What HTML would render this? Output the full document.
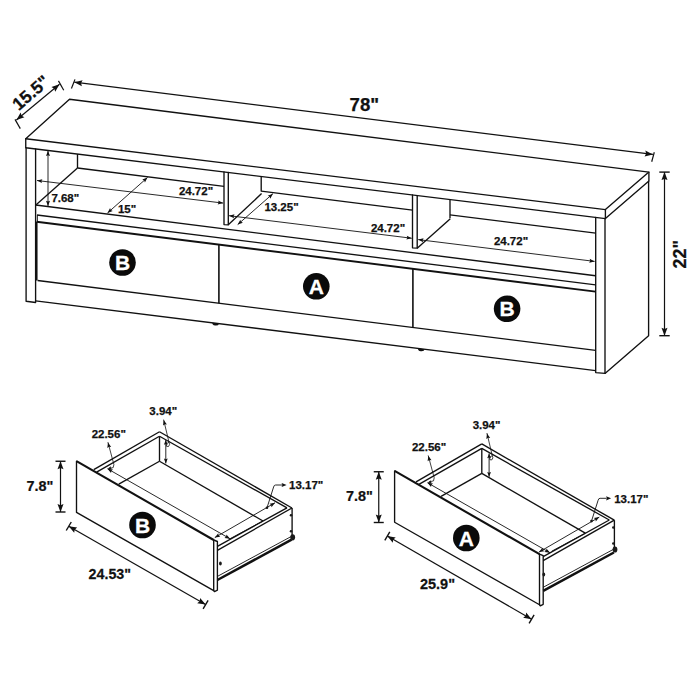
<!DOCTYPE html>
<html><head><meta charset="utf-8"><title>TV stand dimensions</title>
<style>
html,body{margin:0;padding:0;background:#fff;}
body{width:700px;height:700px;overflow:hidden;}
svg{display:block;}
svg text{font-family:"Liberation Sans",sans-serif;font-weight:bold;fill:#111;stroke:#111;stroke-width:0.25px;}
</style></head><body>
<svg width="700" height="700" viewBox="0 0 700 700">
<rect width="700" height="700" fill="#fff"/>
<path d="M69.50 99.25 L648.90 172.10 L605.40 209.60 L25.75 138.75 Z" stroke="#111" stroke-width="1.35" fill="none" stroke-linejoin="round" stroke-linecap="round"/>
<path d="M25.75 138.75 L25.75 147.75 L605.40 218.60 L605.40 209.60" stroke="#111" stroke-width="1.35" fill="none" stroke-linejoin="round" stroke-linecap="round"/>
<path d="M605.40 218.60 L648.90 181.10 L648.90 172.10" stroke="#111" stroke-width="1.35" fill="none" stroke-linejoin="round" stroke-linecap="round"/>
<path d="M26.10 147.79 L26.10 301.25 L35.60 302.50 L35.60 148.95" stroke="#111" stroke-width="1.35" fill="none" stroke-linejoin="round" stroke-linecap="round"/>
<path d="M595.70 217.40 L595.70 372.60 L605.00 373.40 L605.00 218.53" stroke="#111" stroke-width="1.35" fill="none" stroke-linejoin="round" stroke-linecap="round"/>
<path d="M605.00 373.40 L648.60 335.70 L648.60 181.10" stroke="#111" stroke-width="1.35" fill="none" stroke-linejoin="round" stroke-linecap="round"/>
<line x1="35.70" y1="205.00" x2="595.60" y2="275.77" stroke="#111" stroke-width="1.35"/>
<line x1="37.00" y1="215.00" x2="595.60" y2="284.82" stroke="#111" stroke-width="1.35"/>
<line x1="36.60" y1="221.75" x2="595.60" y2="291.62" stroke="#111" stroke-width="1.9"/>
<line x1="37.60" y1="280.50" x2="595.60" y2="350.32" stroke="#111" stroke-width="1.35"/>
<line x1="35.60" y1="300.83" x2="595.60" y2="370.55" stroke="#111" stroke-width="1.35"/>
<line x1="36.70" y1="221.80" x2="36.70" y2="280.50" stroke="#111" stroke-width="1.7"/>
<line x1="37.40" y1="215.00" x2="37.40" y2="221.80" stroke="#111" stroke-width="0.9"/>
<line x1="218.90" y1="244.74" x2="218.90" y2="303.24" stroke="#111" stroke-width="1.6"/>
<line x1="412.90" y1="268.99" x2="412.90" y2="327.49" stroke="#111" stroke-width="1.6"/>
<path d="M212.40 322.85 a3.3 2.3 0 0 0 6.6 0.8 Z" fill="#111"/>
<path d="M418.10 348.46 a3.3 2.3 0 0 0 6.6 0.8 Z" fill="#111"/>
<line x1="77.50" y1="154.07" x2="77.50" y2="168.00" stroke="#111" stroke-width="1.35"/>
<line x1="35.90" y1="205.00" x2="77.50" y2="168.00" stroke="#111" stroke-width="1.35"/>
<line x1="77.50" y1="168.00" x2="224.00" y2="186.42" stroke="#111" stroke-width="1.35"/>
<line x1="261.20" y1="191.09" x2="412.50" y2="210.11" stroke="#111" stroke-width="1.35"/>
<line x1="450.00" y1="214.82" x2="595.70" y2="233.14" stroke="#111" stroke-width="1.35"/>
<path d="M224.00 171.98 L224.00 224.60 L228.30 224.90 L228.30 172.50" stroke="#111" stroke-width="1.35" fill="none" stroke-linejoin="round" stroke-linecap="round"/>
<line x1="261.20" y1="176.52" x2="261.20" y2="191.50" stroke="#111" stroke-width="1.35"/>
<line x1="261.60" y1="193.60" x2="228.30" y2="224.80" stroke="#111" stroke-width="1.35"/>
<path d="M412.50 195.01 L412.50 247.80 L417.20 248.20 L417.20 195.59" stroke="#111" stroke-width="1.35" fill="none" stroke-linejoin="round" stroke-linecap="round"/>
<line x1="450.00" y1="199.59" x2="450.00" y2="218.20" stroke="#111" stroke-width="1.35"/>
<line x1="450.30" y1="218.80" x2="417.20" y2="248.20" stroke="#111" stroke-width="1.35"/>
<line x1="37.00" y1="180.50" x2="223.10" y2="203.10" stroke="#111" stroke-width="0.9"/>
<polygon points="37.00,180.50 42.40,179.14 41.39,181.03 41.92,183.11" fill="#111"/>
<polygon points="223.10,203.10 217.70,204.46 218.71,202.57 218.18,200.49" fill="#111"/>
<line x1="229.10" y1="215.70" x2="411.75" y2="238.25" stroke="#111" stroke-width="0.9"/>
<polygon points="229.10,215.70 234.51,214.35 233.49,216.24 234.02,218.32" fill="#111"/>
<polygon points="411.75,238.25 406.34,239.60 407.36,237.71 406.83,235.63" fill="#111"/>
<line x1="418.20" y1="239.60" x2="594.60" y2="261.40" stroke="#111" stroke-width="0.9"/>
<polygon points="418.20,239.60 423.61,238.25 422.59,240.14 423.12,242.22" fill="#111"/>
<polygon points="594.60,261.40 589.19,262.75 590.21,260.86 589.68,258.78" fill="#111"/>
<line x1="48.00" y1="150.80" x2="48.00" y2="206.00" stroke="#111" stroke-width="0.9"/>
<polygon points="48.00,150.80 50.00,156.00 48.00,155.22 46.00,156.00" fill="#111"/>
<polygon points="48.00,206.00 46.00,200.80 48.00,201.58 50.00,200.80" fill="#111"/>
<line x1="107.50" y1="213.00" x2="147.50" y2="177.50" stroke="#111" stroke-width="0.9"/>
<polygon points="107.50,213.00 110.06,208.05 110.81,210.07 112.72,211.04" fill="#111"/>
<polygon points="147.50,177.50 144.94,182.45 144.19,180.43 142.28,179.46" fill="#111"/>
<line x1="237.70" y1="224.60" x2="272.90" y2="193.70" stroke="#111" stroke-width="0.9"/>
<polygon points="237.70,224.60 240.29,219.67 241.02,221.68 242.93,222.67" fill="#111"/>
<polygon points="272.90,193.70 270.31,198.63 269.58,196.62 267.67,195.63" fill="#111"/>
<text x="196.00" y="194.90" font-size="11.5" text-anchor="middle">24.72&quot;</text>
<text x="388.00" y="231.70" font-size="11.5" text-anchor="middle">24.72&quot;</text>
<text x="511.00" y="245.30" font-size="11.5" text-anchor="middle">24.72&quot;</text>
<text x="65.30" y="201.80" font-size="11.5" text-anchor="middle">7.68&quot;</text>
<text x="127.00" y="213.30" font-size="11.5" text-anchor="middle">15&quot;</text>
<text x="281.50" y="210.80" font-size="11.5" text-anchor="middle">13.25&quot;</text>
<circle cx="122.5" cy="262.5" r="13.3" fill="#0a0a0a"/>
<text x="122.5" y="270.00" font-size="21" text-anchor="middle" style="fill:#fff;stroke:#fff;stroke-width:0.3px">B</text>
<circle cx="316.3" cy="286.3" r="13.3" fill="#0a0a0a"/>
<text x="316.3" y="293.80" font-size="21" text-anchor="middle" style="fill:#fff;stroke:#fff;stroke-width:0.3px">A</text>
<circle cx="507.1" cy="308.8" r="13.3" fill="#0a0a0a"/>
<text x="507.1" y="316.30" font-size="21" text-anchor="middle" style="fill:#fff;stroke:#fff;stroke-width:0.3px">B</text>
<line x1="16.40" y1="120.00" x2="59.50" y2="84.30" stroke="#111" stroke-width="1.2"/>
<polygon points="16.40,120.00 20.65,112.59 21.64,115.66 24.47,117.21" fill="#111"/>
<polygon points="59.50,84.30 55.25,91.71 54.26,88.64 51.43,87.09" fill="#111"/>
<line x1="15.00" y1="119.35" x2="20.30" y2="128.65" stroke="#111" stroke-width="1.2"/>
<line x1="58.45" y1="80.90" x2="63.75" y2="90.20" stroke="#111" stroke-width="1.2"/>
<line x1="74.30" y1="82.20" x2="652.90" y2="154.40" stroke="#111" stroke-width="1.2"/>
<polygon points="74.30,82.20 82.61,80.21 81.05,83.04 81.87,86.17" fill="#111"/>
<polygon points="652.90,154.40 644.59,156.39 646.15,153.56 645.33,150.43" fill="#111"/>
<line x1="71.43" y1="88.52" x2="74.97" y2="79.38" stroke="#111" stroke-width="1.2"/>
<line x1="651.71" y1="161.73" x2="654.29" y2="152.27" stroke="#111" stroke-width="1.2"/>
<line x1="664.50" y1="172.10" x2="664.50" y2="335.70" stroke="#111" stroke-width="1.2"/>
<polygon points="664.50,172.10 667.50,180.10 664.50,178.90 661.50,180.10" fill="#111"/>
<polygon points="664.50,335.70 661.50,327.70 664.50,328.90 667.50,327.70" fill="#111"/>
<line x1="669.70" y1="172.10" x2="659.30" y2="172.10" stroke="#111" stroke-width="1.4"/>
<line x1="669.70" y1="335.70" x2="659.30" y2="335.70" stroke="#111" stroke-width="1.4"/>
<text x="364.30" y="111.40" font-size="18.6" text-anchor="middle">78&quot;</text>
<text x="686.50" y="254.30" font-size="18" text-anchor="middle" transform="rotate(-90 686.50 254.30)">22&quot;</text>
<text x="34.80" y="97.30" font-size="17.6" text-anchor="middle" transform="rotate(-41 34.80 97.30)">15.5&quot;</text>
<path d="M76.50 461.10 L76.50 512.40 L213.70 590.60 L213.70 540.00" stroke="#111" stroke-width="1.35" fill="none" stroke-linejoin="round" stroke-linecap="round"/>
<line x1="76.50" y1="461.10" x2="213.70" y2="540.00" stroke="#111" stroke-width="2.1"/>
<path d="M213.70 540.00 L217.40 541.50 L217.40 590.20 L214.50 591.60 L213.70 590.60" stroke="#111" stroke-width="1.35" fill="none" stroke-linejoin="round" stroke-linecap="round"/>
<line x1="93.75" y1="469.60" x2="159.50" y2="431.75" stroke="#111" stroke-width="1.35"/>
<line x1="96.60" y1="472.20" x2="159.50" y2="436.25" stroke="#111" stroke-width="1.35"/>
<line x1="159.50" y1="436.25" x2="159.50" y2="461.25" stroke="#111" stroke-width="1.35"/>
<line x1="159.50" y1="461.25" x2="118.75" y2="484.20" stroke="#111" stroke-width="1.35"/>
<line x1="159.50" y1="461.25" x2="263.00" y2="521.00" stroke="#111" stroke-width="1.35"/>
<line x1="263.00" y1="521.00" x2="229.50" y2="539.00" stroke="#111" stroke-width="0.9"/>
<line x1="159.50" y1="431.75" x2="292.00" y2="508.00" stroke="#111" stroke-width="1.35"/>
<line x1="159.50" y1="436.25" x2="287.00" y2="507.80" stroke="#111" stroke-width="1.35"/>
<line x1="292.10" y1="508.00" x2="292.10" y2="536.50" stroke="#111" stroke-width="1.35"/>
<line x1="217.40" y1="550.40" x2="292.00" y2="508.00" stroke="#111" stroke-width="1.35"/>
<line x1="217.40" y1="546.40" x2="287.00" y2="507.80" stroke="#111" stroke-width="1.35"/>
<line x1="217.40" y1="576.40" x2="291.40" y2="536.40" stroke="#111" stroke-width="0.9"/>
<line x1="217.40" y1="580.00" x2="291.60" y2="539.70" stroke="#111" stroke-width="2.5"/>
<ellipse cx="292.70" cy="537.30" rx="2.4" ry="3.1" fill="#1a1a1a"/>
<ellipse cx="220.40" cy="563.60" rx="1.4" ry="2.0" fill="#1a1a1a"/>
<circle cx="291.00" cy="515.20" r="1.25" fill="#1a1a1a"/>
<circle cx="291.00" cy="531.20" r="1.25" fill="#1a1a1a"/>
<line x1="107.50" y1="468.75" x2="230.00" y2="538.75" stroke="#111" stroke-width="0.9"/>
<polygon points="107.50,468.75 113.01,469.59 111.34,470.94 111.02,473.07" fill="#111"/>
<polygon points="230.00,538.75 224.49,537.91 226.16,536.56 226.48,534.43" fill="#111"/>
<line x1="214.80" y1="537.60" x2="275.00" y2="502.80" stroke="#111" stroke-width="0.9"/>
<polygon points="214.80,537.60 218.30,533.27 218.63,535.39 220.30,536.73" fill="#111"/>
<polygon points="275.00,502.80 271.50,507.13 271.17,505.01 269.50,503.67" fill="#111"/>
<line x1="165.80" y1="440.00" x2="165.80" y2="463.40" stroke="#111" stroke-width="0.9"/>
<polygon points="165.80,440.00 167.70,444.80 165.80,444.08 163.90,444.80" fill="#111"/>
<polygon points="165.80,463.40 163.90,458.60 165.80,459.32 167.70,458.60" fill="#111"/>
<path d="M108.00 442.50 L113.90 464.50 L113.20 467.60 L109.50 468.40" stroke="#111" stroke-width="0.8" fill="none" stroke-linejoin="round" stroke-linecap="round"/>
<polygon points="108.00,442.50 111.20,447.06 109.07,446.79 107.32,448.03" fill="#111"/>
<polygon points="107.50,468.75 110.93,466.26 110.76,467.77 111.73,468.94" fill="#111"/>
<path d="M163.70 420.00 L168.80 441.50 L169.60 444.50 L168.50 446.50 L166.50 446.30 L166.30 443.80 L168.60 442.50" stroke="#111" stroke-width="0.8" fill="none" stroke-linejoin="round" stroke-linecap="round"/>
<polygon points="163.70,420.00 166.90,424.56 164.77,424.29 163.02,425.53" fill="#111"/>
<text x="108.75" y="437.80" font-size="11.5" text-anchor="middle">22.56&quot;</text>
<text x="163.25" y="415.30" font-size="11.5" text-anchor="middle">3.94&quot;</text>
<path d="M282.10 485.00 L275.60 485.00 Q274.00 485.00 273.60 487.00 L267.00 507.80" stroke="#111" stroke-width="0.9" fill="none"/>
<circle cx="267.00" cy="507.80" r="1.3" fill="#111"/>
<polygon points="286.60,485.00 281.60,487.10 282.35,485.00 281.60,482.90" fill="#111"/>
<text x="289.00" y="489.40" font-size="11.5" text-anchor="start">13.17&quot;</text>
<circle cx="142.5" cy="525" r="13.3" fill="#0a0a0a"/>
<text x="142.5" y="532.50" font-size="21" text-anchor="middle" style="fill:#fff;stroke:#fff;stroke-width:0.3px">B</text>
<path d="M394.60 470.94 L394.60 522.24 L539.50 604.77 L539.50 554.17" stroke="#111" stroke-width="1.35" fill="none" stroke-linejoin="round" stroke-linecap="round"/>
<line x1="394.60" y1="470.94" x2="539.50" y2="554.17" stroke="#111" stroke-width="2.1"/>
<path d="M539.50 554.17 L543.20 555.67 L543.20 604.37 L540.30 605.77 L539.50 604.77" stroke="#111" stroke-width="1.35" fill="none" stroke-linejoin="round" stroke-linecap="round"/>
<line x1="416.05" y1="481.80" x2="481.80" y2="443.95" stroke="#111" stroke-width="1.35"/>
<line x1="418.90" y1="484.40" x2="481.80" y2="448.45" stroke="#111" stroke-width="1.35"/>
<line x1="481.80" y1="448.45" x2="481.80" y2="473.45" stroke="#111" stroke-width="1.35"/>
<line x1="481.80" y1="473.45" x2="441.05" y2="496.40" stroke="#111" stroke-width="1.35"/>
<line x1="481.80" y1="473.45" x2="585.30" y2="533.20" stroke="#111" stroke-width="1.35"/>
<line x1="585.30" y1="533.20" x2="551.80" y2="551.20" stroke="#111" stroke-width="0.9"/>
<line x1="481.80" y1="443.95" x2="614.30" y2="520.20" stroke="#111" stroke-width="1.35"/>
<line x1="481.80" y1="448.45" x2="609.30" y2="520.00" stroke="#111" stroke-width="1.35"/>
<line x1="614.40" y1="520.20" x2="614.40" y2="548.70" stroke="#111" stroke-width="1.35"/>
<line x1="543.20" y1="560.61" x2="614.30" y2="520.20" stroke="#111" stroke-width="1.35"/>
<line x1="543.20" y1="556.66" x2="609.30" y2="520.00" stroke="#111" stroke-width="1.35"/>
<line x1="543.20" y1="587.31" x2="613.70" y2="549.20" stroke="#111" stroke-width="0.9"/>
<line x1="543.20" y1="590.90" x2="613.90" y2="552.50" stroke="#111" stroke-width="2.5"/>
<ellipse cx="615.00" cy="549.50" rx="2.4" ry="3.1" fill="#1a1a1a"/>
<ellipse cx="543.80" cy="574.50" rx="1.4" ry="2.0" fill="#1a1a1a"/>
<circle cx="613.30" cy="527.40" r="1.25" fill="#1a1a1a"/>
<circle cx="613.30" cy="543.40" r="1.25" fill="#1a1a1a"/>
<line x1="427.50" y1="482.75" x2="550.00" y2="552.75" stroke="#111" stroke-width="0.9"/>
<polygon points="427.50,482.75 433.01,483.59 431.34,484.94 431.02,487.07" fill="#111"/>
<polygon points="550.00,552.75 544.49,551.91 546.16,550.56 546.48,548.43" fill="#111"/>
<line x1="539.00" y1="552.10" x2="599.30" y2="517.10" stroke="#111" stroke-width="0.9"/>
<polygon points="539.00,552.10 542.49,547.76 542.82,549.88 544.50,551.22" fill="#111"/>
<polygon points="599.30,517.10 595.81,521.44 595.48,519.32 593.80,517.98" fill="#111"/>
<line x1="489.10" y1="453.40" x2="489.10" y2="476.80" stroke="#111" stroke-width="0.9"/>
<polygon points="489.10,453.40 491.00,458.20 489.10,457.48 487.20,458.20" fill="#111"/>
<polygon points="489.10,476.80 487.20,472.00 489.10,472.72 491.00,472.00" fill="#111"/>
<path d="M428.30 455.80 L434.20 477.80 L433.50 480.90 L429.80 481.70" stroke="#111" stroke-width="0.8" fill="none" stroke-linejoin="round" stroke-linecap="round"/>
<polygon points="428.30,455.80 431.50,460.36 429.37,460.09 427.62,461.33" fill="#111"/>
<polygon points="427.50,482.75 430.93,480.26 430.76,481.77 431.73,482.94" fill="#111"/>
<path d="M487.00 433.40 L492.10 454.90 L492.90 457.90 L491.80 459.90 L489.80 459.70 L489.60 457.20 L491.90 455.90" stroke="#111" stroke-width="0.8" fill="none" stroke-linejoin="round" stroke-linecap="round"/>
<polygon points="487.00,433.40 490.20,437.96 488.07,437.69 486.32,438.93" fill="#111"/>
<text x="429.05" y="451.10" font-size="11.5" text-anchor="middle">22.56&quot;</text>
<text x="486.55" y="428.70" font-size="11.5" text-anchor="middle">3.94&quot;</text>
<path d="M606.60 498.30 L600.10 498.30 Q598.50 498.30 598.10 500.30 L591.50 521.10" stroke="#111" stroke-width="0.9" fill="none"/>
<circle cx="591.50" cy="521.10" r="1.3" fill="#111"/>
<polygon points="611.10,498.30 606.10,500.40 606.85,498.30 606.10,496.20" fill="#111"/>
<text x="614.16" y="502.70" font-size="11.5" text-anchor="start">13.17&quot;</text>
<circle cx="466.3" cy="538.0" r="13.3" fill="#0a0a0a"/>
<text x="466.3" y="545.50" font-size="21" text-anchor="middle" style="fill:#fff;stroke:#fff;stroke-width:0.3px">A</text>
<line x1="60.50" y1="461.25" x2="60.50" y2="512.00" stroke="#111" stroke-width="1.2"/>
<polygon points="60.50,461.25 63.50,469.25 60.50,468.05 57.50,469.25" fill="#111"/>
<polygon points="60.50,512.00 57.50,504.00 60.50,505.20 63.50,504.00" fill="#111"/>
<line x1="65.50" y1="461.25" x2="55.50" y2="461.25" stroke="#111" stroke-width="1.4"/>
<line x1="65.50" y1="512.00" x2="55.50" y2="512.00" stroke="#111" stroke-width="1.4"/>
<line x1="378.75" y1="471.75" x2="378.75" y2="522.50" stroke="#111" stroke-width="1.2"/>
<polygon points="378.75,471.75 381.75,479.75 378.75,478.55 375.75,479.75" fill="#111"/>
<polygon points="378.75,522.50 375.75,514.50 378.75,515.70 381.75,514.50" fill="#111"/>
<line x1="383.75" y1="471.75" x2="373.75" y2="471.75" stroke="#111" stroke-width="1.4"/>
<line x1="383.75" y1="522.50" x2="373.75" y2="522.50" stroke="#111" stroke-width="1.4"/>
<text x="40.00" y="491.00" font-size="15.5" text-anchor="middle" transform="translate(40.00 0) scale(0.93 1) translate(-40.00 0)">7.8&quot;</text>
<text x="359.50" y="500.70" font-size="15.5" text-anchor="middle" transform="translate(359.50 0) scale(0.93 1) translate(-359.50 0)">7.8&quot;</text>
<line x1="68.75" y1="526.25" x2="205.60" y2="604.60" stroke="#111" stroke-width="1.2"/>
<polygon points="68.75,526.25 77.18,527.62 74.65,529.63 74.20,532.83" fill="#111"/>
<polygon points="205.60,604.60 197.17,603.23 199.70,601.22 200.15,598.02" fill="#111"/>
<line x1="71.25" y1="522.00" x2="66.25" y2="530.50" stroke="#111" stroke-width="1.4"/>
<line x1="208.10" y1="600.35" x2="203.10" y2="608.85" stroke="#111" stroke-width="1.4"/>
<line x1="387.30" y1="536.10" x2="531.60" y2="619.20" stroke="#111" stroke-width="1.2"/>
<polygon points="387.30,536.10 395.73,537.49 393.19,539.49 392.74,542.69" fill="#111"/>
<polygon points="531.60,619.20 523.17,617.81 525.71,615.81 526.16,612.61" fill="#111"/>
<line x1="389.80" y1="531.85" x2="384.80" y2="540.35" stroke="#111" stroke-width="1.4"/>
<line x1="534.10" y1="614.95" x2="529.10" y2="623.45" stroke="#111" stroke-width="1.4"/>
<text x="109.80" y="579.30" font-size="15.5" text-anchor="middle" transform="translate(109.80 0) scale(0.92 1) translate(-109.80 0)">24.53&quot;</text>
<text x="437.50" y="589.00" font-size="15.5" text-anchor="middle" transform="translate(437.50 0) scale(0.935 1) translate(-437.50 0)">25.9&quot;</text>
</svg>
</body></html>
